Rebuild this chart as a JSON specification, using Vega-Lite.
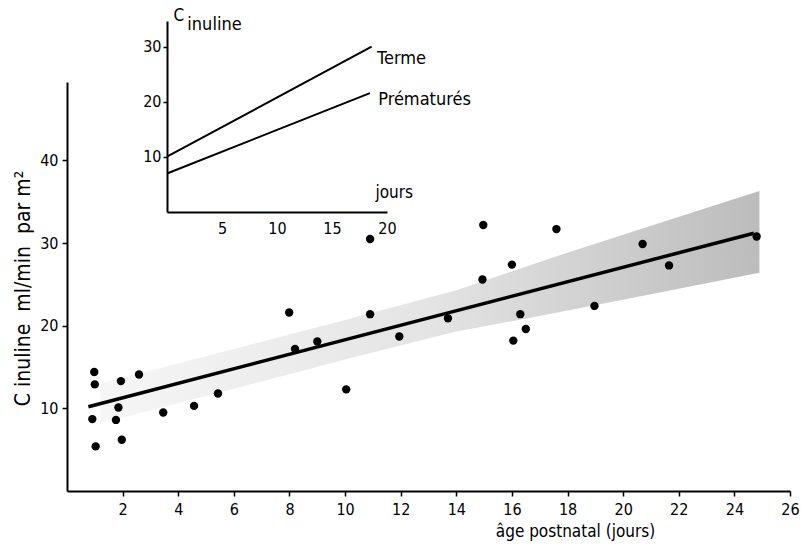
{
  "$schema": "https://vega.github.io/schema/vega-lite/v6.json",
  "width": 723,
  "height": 409,
  "autosize": {"type": "none"},
  "padding": {"left": 67, "top": 82, "right": 11, "bottom": 60},
  "background": "white",
  "config": {
    "view": {"stroke": null},
    "font": "DejaVu Sans Condensed, DejaVu Sans",
    "axis": {
      "grid": false,
      "domainColor": "black",
      "domainWidth": 2,
      "tickColor": "black",
      "tickWidth": 1.5,
      "labelColor": "black",
      "titleColor": "black",
      "labelFont": "DejaVu Sans Condensed, DejaVu Sans",
      "titleFont": "DejaVu Sans Condensed, DejaVu Sans",
      "labelFontSize": 16,
      "titleFontWeight": "normal",
      "labelFlush": false,
      "labelOverlap": false
    }
  },
  "datasets": {
    "points": [
      {"x": 0.98, "y": 14.4}, {"x": 1.0, "y": 12.9}, {"x": 0.91, "y": 8.7}, {"x": 1.03, "y": 5.4},
      {"x": 1.94, "y": 13.3}, {"x": 1.85, "y": 10.1}, {"x": 1.76, "y": 8.6}, {"x": 1.97, "y": 6.2},
      {"x": 2.59, "y": 14.1}, {"x": 3.46, "y": 9.5}, {"x": 4.57, "y": 10.3}, {"x": 5.43, "y": 11.8},
      {"x": 7.99, "y": 21.6}, {"x": 8.2, "y": 17.2}, {"x": 9.0, "y": 18.1}, {"x": 10.04, "y": 12.3},
      {"x": 10.9, "y": 21.4}, {"x": 10.9, "y": 30.5}, {"x": 11.95, "y": 18.7}, {"x": 13.7, "y": 20.9},
      {"x": 14.94, "y": 25.6}, {"x": 14.97, "y": 32.2}, {"x": 16.0, "y": 27.4}, {"x": 16.05, "y": 18.2},
      {"x": 16.3, "y": 21.4}, {"x": 16.5, "y": 19.6}, {"x": 17.6, "y": 31.7}, {"x": 18.97, "y": 22.4},
      {"x": 20.7, "y": 29.9}, {"x": 21.65, "y": 27.3}, {"x": 24.8, "y": 30.8}
    ],
    "fit": [
      {"x": 0.77, "y": 10.2}, {"x": 24.7, "y": 31.2}
    ],
    "band": [
      {"x": 1.2, "y": 8.2, "y2": 13.0},
      {"x": 5, "y": 11.5, "y2": 16.3},
      {"x": 10, "y": 15.9, "y2": 20.7},
      {"x": 14, "y": 19.3, "y2": 24.3},
      {"x": 17.5, "y": 21.5, "y2": 28.3},
      {"x": 21, "y": 23.8, "y2": 32.1},
      {"x": 24.9, "y": 26.4, "y2": 36.3}
    ],
    "inset": [
      {"serie": "Terme", "t": 0, "c": 10.05}, {"serie": "Terme", "t": 18.6, "c": 30.05},
      {"serie": "Prématurés", "t": 0, "c": 7.0}, {"serie": "Prématurés", "t": 18.45, "c": 21.6}
    ],
    "insetLabels": [
      {"label": "Terme", "t": 19.1, "c": 27.8},
      {"label": "Prématurés", "t": 19.2, "c": 20.4},
      {"label": "inuline", "t": 1.85, "c": 34.0}
    ]
  },
  "layer": [
    {
      "encoding": {
        "x": {
          "field": "x", "type": "quantitative",
          "scale": {"domain": [0, 26], "nice": false, "zero": false},
          "axis": {
            "values": [2, 4, 6, 8, 10, 12, 14, 16, 18, 20, 22, 24, 26],
            "tickSize": 5, "labelPadding": 5,
            "title": "âge postnatal (jours)",
            "titleFontSize": 17,
            "titleX": 508, "titleY": 32, "titleAlign": "center", "titleBaseline": "top"
          }
        },
        "y": {
          "field": "y", "type": "quantitative",
          "scale": {"domain": [0, 49.5], "nice": false},
          "axis": {
            "values": [10, 20, 30, 40],
            "tickSize": 5, "labelPadding": 4,
            "title": "C inuline\u00a0 ml/min\u00a0 par m²",
            "titleFontSize": 21,
            "titleX": -44, "titleY": 206, "titleAlign": "center", "titleBaseline": "middle"
          }
        }
      },
      "layer": [
        {
          "data": {"name": "band"},
          "mark": {
            "type": "area",
            "fill": {"gradient": "linear", "stops": [{"offset": 0, "color": "#f6f6f6"}, {"offset": 0.5, "color": "#e4e4e4"}, {"offset": 1, "color": "#bcbcbc"}]},
            "stroke": null
          },
          "encoding": {"y2": {"field": "y2"}}
        },
        {
          "data": {"name": "fit"},
          "mark": {"type": "line", "color": "black", "strokeWidth": 3.5},
          "encoding": {}
        },
        {
          "data": {"name": "points"},
          "mark": {"type": "circle", "color": "black", "opacity": 1, "size": 70},
          "encoding": {}
        }
      ]
    },
    {
      "encoding": {
        "x": {
          "field": "t", "type": "quantitative",
          "scale": {"domain": [0, 20], "range": [100, 320], "nice": false, "zero": false},
          "axis": {
            "orient": "bottom", "offset": -279,
            "values": [5, 10, 15, 20], "ticks": false, "labelPadding": 8,
            "title": "jours", "titleFontSize": 17,
            "titleX": 308, "titleY": -15, "titleAlign": "left", "titleBaseline": "alphabetic"
          }
        },
        "y": {
          "field": "c", "type": "quantitative",
          "scale": {"domain": [0, 34.7], "range": [130, -61], "nice": false},
          "axis": {
            "orient": "left", "offset": -100,
            "values": [10, 20, 30], "tickSize": 4, "labelPadding": 2,
            "title": "C", "titleFontSize": 17, "titleAngle": 0,
            "titleX": 6, "titleY": -62, "titleAlign": "left", "titleBaseline": "alphabetic"
          }
        }
      },
      "layer": [
        {
          "data": {"name": "inset"},
          "mark": {"type": "line", "color": "black", "strokeWidth": 2},
          "encoding": {"detail": {"field": "serie"}}
        },
        {
          "data": {"name": "insetLabels"},
          "mark": {"type": "text", "align": "left", "baseline": "middle", "fontSize": 18, "color": "black"},
          "encoding": {"text": {"field": "label"}}
        }
      ]
    }
  ],
  "resolve": {
    "scale": {"x": "independent", "y": "independent"},
    "axis": {"x": "independent", "y": "independent"}
  }
}
